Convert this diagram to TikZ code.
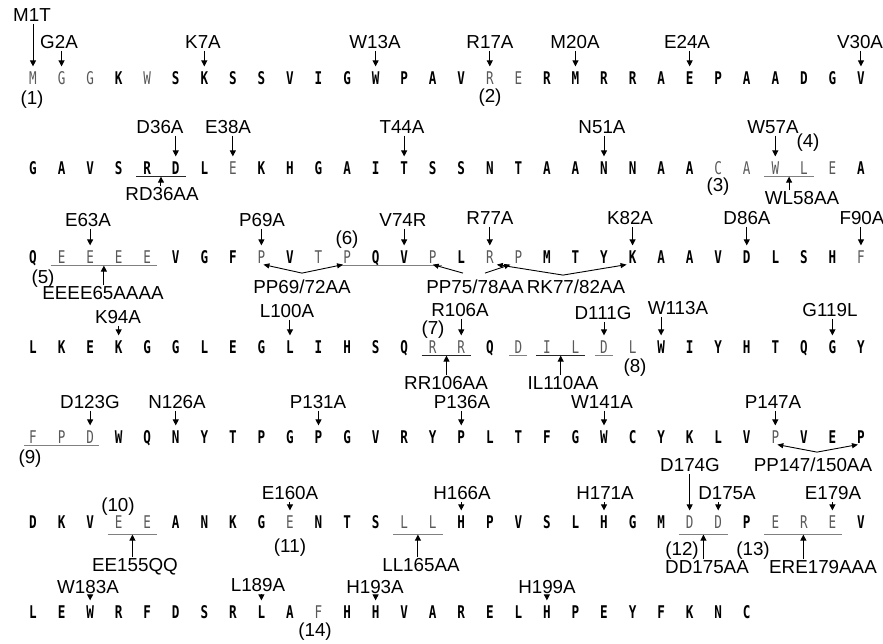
\documentclass[tikz,border=0pt]{standalone}
\usepackage{fontspec}
\setmainfont{Liberation Sans}
\newfontfamily\resfont[FakeStretch=0.72]{DejaVu Sans Mono}
\usetikzlibrary{arrows.meta,calc,positioning}

\tikzset{
  res/.style={font=\resfont\bfseries\fontsize{17.5}{17.5}\selectfont, inner sep=0pt, text height=12.8pt, text depth=0pt},
  tint/g/.style={font=\resfont\fontsize{17.5}{17.5}\selectfont, text=black!65},
  lab/.style={font=\fontsize{18.8}{18.8}\selectfont, inner sep=0pt, text height=13.4pt, text depth=0pt},
  dn/.style={-{Triangle[length=6pt,width=6pt]}, line width=1pt, shorten <=2pt, shorten >=5pt},
  upa/.style={-{Triangle[length=6pt,width=6pt]}, line width=1pt, shorten <=1pt},
  dbl/.style={{Triangle[length=6pt,width=5pt]}-{Triangle[length=6pt,width=5pt]}, line width=0.9pt},
  sgl/.style={-{Triangle[length=6pt,width=5pt]}, line width=0.9pt},
  ul/.style={gray, line width=0.9pt},
  ulk/.style={black!85, line width=0.9pt},
}

\begin{document}
\begin{tikzpicture}[x=1pt,y=-1pt]
  \useasboundingbox (0,0) rectangle (883,644);
  % sequence, 30 residues per row
  \foreach \s/\c [count=\n] in {
    M/g,G/g,G/g,K,W/g,S,K,S,S,V,I,G,W,P,A,V,R/g,E/g,R,M,R,R,A,E,P,A,A,D,G,V,
    G,A,V,S,R,D,L,E/g,K,H,G,A,I,T,S,S,N,T,A,A,N,N,A,A,C/g,A/g,W/g,L/g,E/g,A,
    Q,E/g,E/g,E/g,E/g,V,G,F,P/g,V,T/g,P/g,Q,V,P/g,L,R/g,P/g,M,T,Y,K,A,A,V,D,L,S,H,F/g,
    L,K,E,K,G,G,L,E,G,L,I,H,S,Q,R/g,R/g,Q,D/g,I/g,L/g,D/g,L/g,W,I,Y,H,T,Q,G,Y,
    F/g,P/g,D/g,W,Q,N,Y,T,P,G,P,G,V,R,Y,P,L,T,F,G,W,C,Y,K,L,V,P/g,V,E,P,
    D,K,V,E/g,E/g,A,N,K,G,E/g,N,T,S,L/g,L/g,H,P,V,S,L,H,G,M,D/g,D/g,P,E/g,R/g,E/g,V,
    L,E,W,R,F,D,S,R,L,A,F/g,H,H,V,A,R,E,L,H,P,E,Y,F,K,N,C}{
    \pgfmathtruncatemacro\row{int((\n-1)/30)}
    \pgfmathtruncatemacro\col{\n-1-30*\row}
    \pgfmathsetmacro\yy{{78,168,257,347,437,522,612}[\row]}
    \node[res, tint/\c/.try] (r\n) at (33+28.55*\col,\yy) {\s};
  }

  % single mutations
  \foreach \n/\t/\x/\y in {1/M1T/32/15, 2/G2A/59/42, 7/K7A/203/42, 13/W13A/375/42,
      17/R17A/490/42, 20/M20A/575/42, 24/E24A/687/42, 30/V30A/860/42,
      36/D36A/160/127, 38/E38A/228/127, 44/T44A/402/127, 51/N51A/602/127, 57/W57A/773/127,
      63/E63A/88/220, 69/P69A/262/220, 74/V74R/403/220, 77/R77A/490/218,
      82/K82A/630/218, 86/D86A/747/218, 90/F90A/862/218,
      94/K94A/118/317, 100/L100A/287/311, 106/R106A/460/310, 111/D111G/603/313,
      113/W113A/678/308, 119/G119L/830/310,
      123/D123G/90/402, 126/N126A/177/402, 131/P131A/318/402, 136/P136A/462/402,
      141/W141A/602/402, 147/P147A/773/402,
      160/E160A/290/493, 166/H166A/462/493, 171/H171A/605/493, 174/D174G/690/465,
      175/D175A/727/493, 179/E179A/833/493,
      183/W183A/88/587, 189/L189A/258/585, 193/H193A/375/587, 199/H199A/547/587}{
    \node[lab] (m\n) at (\x,\y) {\t};
    \draw[dn] (r\n.north |- m\n.south) -- (r\n.north);
  }

  % block mutations, underlined
  \foreach \a/\b/\nm/\t/\x/\y/\sty/\d in {35/36/rd36/RD36AA/162/194/ulk/2,
      57/58/wl58/WL58AA/802/198/ul/2, 62/65/e65/EEEE65AAAA/103/293/ul/2,
      105/106/rr106/RR106AA/446/383/ulk/2, 109/110/il110/IL110AA/563/383/ulk/2,
      154/155/ee155/EE155QQ/135/565/ul/6, 164/165/ll165/LL165AA/421/565/ul/6,
      174/175/dd175/DD175AA/707/567/ul/6, 177/179/ere179/ERE179AAA/823/567/ul/6}{
    \node[lab] (\nm) at (\x,\y) {\t};
    \draw[\sty] ([xshift=-11pt,yshift=-\d pt]r\a.south) -- coordinate (u\nm) ([xshift=10pt,yshift=-\d pt]r\b.south);
    \draw[upa] (\nm.north -| u\nm) -- (u\nm);
  }
  \foreach \a/\b in {72/75, 108/108, 111/111, 121/123}
    \draw[ul] ([xshift=-9pt,yshift=-2pt]r\a.south) -- ([xshift=9pt,yshift=-2pt]r\b.south);

  % paired mutations
  \node[lab] (pp69) at (302,287) {PP69/72AA};
  \node[lab] (pp75) at (475,287) {PP75/78AA};
  \node[lab] (rk77) at (576,287) {RK77/82AA};
  \node[lab] (pp147) at (813,465) {PP147/150AA};
  \draw[dbl] ([xshift=2pt,yshift=-1pt]r69.south) -- ([yshift=7pt]pp69.north) -- ([xshift=-4pt,yshift=-1pt]r72.south);
  \draw[sgl] ([xshift=-12pt,yshift=7pt]pp75.north) -- ([yshift=-1pt]r75.south);
  \draw[sgl] ([xshift=10pt,yshift=7pt]pp75.north) -- ([xshift=-8pt,yshift=-1pt]r78.south);
  \draw[dbl] ([xshift=7pt,yshift=-1pt]r77.south) -- ([xshift=-13pt,yshift=5pt]rk77.north) -- ([xshift=-6pt,yshift=-1pt]r82.south);
  \draw[dbl] ([xshift=2pt,yshift=-1pt]r147.south) -- ([xshift=4pt,yshift=6pt]pp147.north) -- ([xshift=-3pt,yshift=-1pt]r150.south);

  % numbered sites
  \foreach \k/\x/\y in {1/32/98, 2/490/96, 3/718/185, 4/808/141, 5/43/277, 6/347/238,
      7/433/328, 8/635/366, 9/30/457, 10/118/505, 11/290/546, 12/682/549,
      13/753/549, 14/315/630}
    \node[lab] (p\k) at (\x,\y) {(\k)};
\end{tikzpicture}
\end{document}
